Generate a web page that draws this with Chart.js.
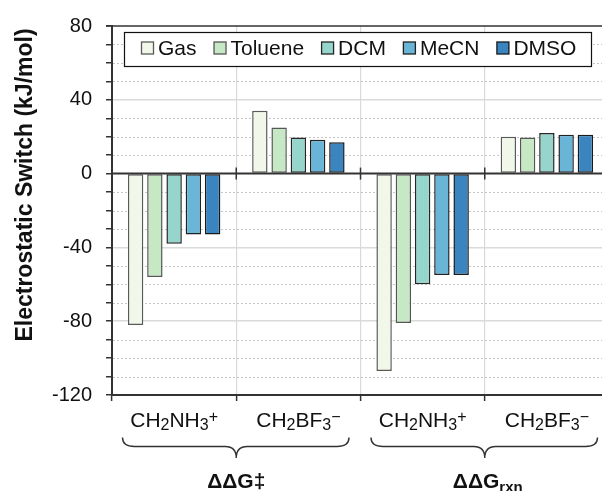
<!DOCTYPE html>
<html>
<head>
<meta charset="utf-8">
<script src="https://cdn.jsdelivr.net/npm/chart.js@4.4.1/dist/chart.umd.min.js"></script>
<style>
  html, body { margin: 0; padding: 0; background: #fff; overflow: hidden; }
  #wrap { position: absolute; left: 0; top: 0; width: 612px; height: 491px; }
</style>
</head>
<body>
<div id="wrap"><canvas id="c" width="612" height="491" style="width:612px;height:491px"></canvas></div>
<script>
// ---------- data ----------
const categories = ['CH2NH3+', 'CH2BF3-', 'CH2NH3+', 'CH2BF3-'];
const groupLabels = ['ΔΔG‡', 'ΔΔG_rxn'];
const seriesNames = ['Gas', 'Toluene', 'DCM', 'MeCN', 'DMSO'];
const gasValues     = [-82, 34, -107, 20];
const tolueneValues = [-56, 25, -81, 19.5];
const dcmValues     = [-38, 19.5, -60, 22];
const mecnValues    = [-33, 18.3, -55, 21];
const dmsoValues    = [-33, 17, -55, 21];
const yMin = -120, yMax = 80, yMinorStep = 10, yMajorStep = 40;
const yTitle = 'Electrostatic Switch (kJ/mol)';

const fillColors   = ['#f1f8ea', '#c6e8c5', '#95d5cb', '#69b5d7', '#3a85bf'];
const borderColors = ['#5a5a5a', '#555555', '#262626', '#222222', '#1a1a1a'];
const FONT = '"Liberation Sans", Arial, sans-serif';

const seriesValues = [gasValues, tolueneValues, dcmValues, mecnValues, dmsoValues];

// ---------- rich text helpers ----------
function parseCategory(s) {
  const segs = [];
  for (let i = 0; i < s.length; i++) {
    const ch = s[i];
    if (/[0-9]/.test(ch)) segs.push({t: ch, kind: 'sub'});
    else if ((ch === '+' || ch === '-') && i === s.length - 1) segs.push({t: ch === '-' ? '\u2212' : ch, kind: 'sup'});
    else segs.push({t: ch, kind: 'norm'});
  }
  return segs;
}
function parseGroup(s) {
  const parts = s.split('_');
  const segs = [{t: parts[0], kind: 'norm'}];
  if (parts[1]) segs.push({t: parts[1], kind: 'sub'});
  return segs;
}
function drawRich(ctx, segs, cx, baseline, opt) {
  const fontFor = k => (opt.bold ? 'bold ' : '') + (k === 'norm' ? opt.size : opt.small) + 'px ' + FONT;
  let total = 0;
  segs.forEach(sg => { ctx.font = fontFor(sg.kind); sg.w = ctx.measureText(sg.t).width; total += sg.w; });
  let x = cx - total / 2;
  ctx.textAlign = 'left';
  ctx.textBaseline = 'alphabetic';
  segs.forEach(sg => {
    ctx.font = fontFor(sg.kind);
    const dy = sg.kind === 'sub' ? opt.subDy : (sg.kind === 'sup' ? -opt.supDy : 0);
    ctx.fillText(sg.t, x, baseline + dy);
    x += sg.w;
  });
}

// ---------- plugin for extras ----------
const extras = {
  id: 'extras',
  beforeDatasetsDraw(chart) {
    const {ctx, chartArea: a, scales: {y}} = chart;
    ctx.save();
    ctx.strokeStyle = '#c4c4c4';
    ctx.lineWidth = 1;
    ctx.setLineDash([2, 2]);
    for (let v = yMin + yMinorStep; v < yMax; v += yMinorStep) {
      if (v % yMajorStep === 0) continue;
      const py = Math.round(y.getPixelForValue(v)) + 0.5;
      ctx.beginPath(); ctx.moveTo(a.left + 1, py); ctx.lineTo(a.right, py); ctx.stroke();
    }
    ctx.restore();
  },
  afterDatasetsDraw(chart) {
    const {ctx, chartArea: a, scales: {x, y}} = chart;
    ctx.save();
    const half = (x.getPixelForValue(1) - x.getPixelForValue(0)) / 2;
    // zero line
    const y0 = y.getPixelForValue(0);
    ctx.strokeStyle = '#333';
    ctx.lineWidth = 2;
    ctx.beginPath(); ctx.moveTo(a.left, y0); ctx.lineTo(a.right, y0); ctx.stroke();
    ctx.lineWidth = 1.5;
    for (let i = 1; i < categories.length; i++) {
      const bx = x.getPixelForValue(i) - half;
      ctx.beginPath(); ctx.moveTo(bx, y0 - 6); ctx.lineTo(bx, y0 + 6); ctx.stroke();
    }
    // top frame
    ctx.lineWidth = 1.5;
    ctx.beginPath(); ctx.moveTo(a.left - 6, a.top); ctx.lineTo(a.right, a.top); ctx.stroke();

    // legend
    const lx0 = 124, ly0 = 32, lx1 = 592, ly1 = 67;
    ctx.fillStyle = '#fff';
    ctx.fillRect(lx0, ly0, lx1 - lx0, ly1 - ly0);
    ctx.strokeStyle = '#111';
    ctx.lineWidth = 1.2;
    ctx.strokeRect(lx0 + 0.5, ly0 + 0.5, lx1 - lx0 - 1, ly1 - ly0 - 1);
    ctx.font = '21px ' + FONT;
    ctx.textBaseline = 'alphabetic';
    ctx.textAlign = 'left';
    let lx = 141.5;
    chart.data.datasets.forEach((ds, i) => {
      ctx.fillStyle = ds.backgroundColor;
      ctx.fillRect(lx, 42, 12, 12);
      ctx.strokeStyle = ds.borderColor;
      ctx.lineWidth = 1.3;
      ctx.strokeRect(lx, 42, 12, 12);
      ctx.fillStyle = '#111';
      ctx.fillText(ds.label, lx + 16.5, 55);
      lx += 16.5 + ctx.measureText(ds.label).width + 17.5;
    });

    // y title
    ctx.save();
    ctx.translate(32, 185);
    ctx.rotate(-Math.PI / 2);
    ctx.font = 'bold 23px ' + FONT;
    ctx.fillStyle = '#111';
    ctx.textAlign = 'center';
    ctx.textBaseline = 'alphabetic';
    ctx.fillText(yTitle, 0, 0);
    ctx.restore();

    // category labels
    ctx.fillStyle = '#111';
    categories.forEach((c, i) => {
      drawRich(ctx, parseCategory(c), x.getPixelForValue(i), 427, {size: 21, small: 16, subDy: 3, supDy: 5, bold: false});
    });

    // braces & group labels
    ctx.strokeStyle = '#333';
    ctx.lineWidth = 1.4;
    groupLabels.forEach((g, gi) => {
      const c0 = x.getPixelForValue(gi * 2) - half;
      const c1 = x.getPixelForValue(gi * 2 + 1) + half;
      const mid = x.getPixelForValue(gi * 2) + half;
      const x0 = c0 + 10.5, x1 = c1 - 11.5;
      const yTop = 437.5, yMid = 446.5, yTip = 458;
      ctx.beginPath();
      ctx.moveTo(x0, yTop);
      ctx.quadraticCurveTo(x0, yMid, x0 + 12, yMid);
      ctx.lineTo(mid - 11, yMid);
      ctx.quadraticCurveTo(mid, yMid, mid, yTip);
      ctx.quadraticCurveTo(mid, yMid, mid + 11, yMid);
      ctx.lineTo(x1 - 12, yMid);
      ctx.quadraticCurveTo(x1, yMid, x1, yTop);
      ctx.stroke();
      ctx.fillStyle = '#111';
      drawRich(ctx, parseGroup(g), mid + (gi === 1 ? 3 : 0), 488, {size: 21, small: 15, subDy: 4, supDy: 0, bold: true});
    });
    ctx.restore();
  }
};

// ---------- chart ----------
const datasets = seriesNames.map((name, i) => ({
  label: name,
  data: seriesValues[i],
  backgroundColor: fillColors[i],
  borderColor: borderColors[i],
  borderWidth: 1.5,
  borderSkipped: false,
  barPercentage: 0.8,
  categoryPercentage: 0.775
}));

new Chart(document.getElementById('c'), {
  type: 'bar',
  data: { labels: categories, datasets },
  options: {
    responsive: false,
    animation: false,
    devicePixelRatio: 1,
    layout: { padding: { left: 0, top: 23, right: 3, bottom: 0 } },
    plugins: { legend: { display: false }, tooltip: { enabled: false } },
    scales: {
      x: {
        grid: { offset: true, color: '#d9d9d9', lineWidth: 1.2, drawTicks: true, tickLength: 6, tickColor: '#333', tickWidth: 1.5 },
        border: { display: true, color: '#333', width: 2 },
        ticks: { display: false },
        afterFit: s => { s.height = 96; }
      },
      y: {
        min: yMin, max: yMax,
        grid: {
          color: c => (c.tick && c.tick.value % yMajorStep === 0 && c.tick.value !== 0 && c.tick.value !== yMin && c.tick.value !== yMax) ? '#dadada' : 'rgba(0,0,0,0)',
          lineWidth: 1.5, drawTicks: true, tickLength: 6, tickColor: '#333', tickWidth: 1.5
        },
        border: { display: true, color: '#333', width: 2 },
        ticks: {
          stepSize: yMinorStep,
          autoSkip: false,
          padding: 14,
          color: '#111',
          font: { family: FONT, size: 20 },
          callback: v => (v % yMajorStep === 0 ? String(v) : '')
        },
        afterFit: s => { s.width = 112; }
      }
    }
  },
  plugins: [extras]
});
</script>
</body>
</html>
